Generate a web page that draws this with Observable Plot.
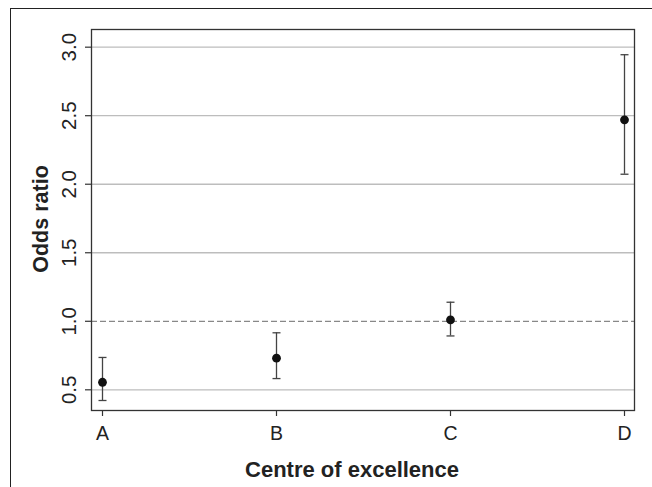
<!DOCTYPE html>
<html>
<head>
<meta charset="utf-8">
<script src="https://cdn.jsdelivr.net/npm/d3@7"></script>
<script src="https://cdn.jsdelivr.net/npm/@observablehq/plot@0.6"></script>
<style>
  html, body { margin: 0; padding: 0; background: white; }
  #wrap { position: relative; width: 652px; height: 487px; overflow: hidden; }
  #border { position: absolute; left: 10px; top: 8px; width: 700px; height: 600px;
            border-left: 1px solid #222; border-top: 1px solid #222; pointer-events: none; }
  #chart { position: absolute; left: 0; top: 0; }
</style>
</head>
<body>
<div id="wrap"><div id="border"></div><div id="chart"></div></div>
<script>
const centres = ["A", "B", "C", "D"];
const oddsRatio = [0.555, 0.731, 1.010, 2.470];
const lowerCI = [0.422, 0.582, 0.893, 2.073];
const upperCI = [0.736, 0.916, 1.139, 2.945];
const yTicks = [0.5, 1.0, 1.5, 2.0, 2.5, 3.0];
const gridLines = [0.5, 1.5, 2.0, 2.5, 3.0];
const referenceLine = [1.0];
const xTitle = "Centre of excellence";
const yTitle = "Odds ratio";

const data = centres.map((c, i) => ({centre: c, or: oddsRatio[i], lo: lowerCI[i], hi: upperCI[i]}));

// horizontal cap symbol for error bars
const capSymbol = {
  draw(context, size) {
    const r = Math.sqrt(size / Math.PI);
    context.moveTo(-r, 0);
    context.lineTo(r, 0);
  }
};

const chart = Plot.plot({
  width: 652,
  height: 487,
  marginLeft: 91,
  marginRight: 18,
  marginTop: 29,
  marginBottom: 77,
  style: {background: "transparent", fontFamily: "'Liberation Sans', Arial, Helvetica, sans-serif", color: "#222"},
  x: {type: "point", domain: centres, padding: 0.06},
  y: {domain: [0.349, 3.129]},
  marks: [
    Plot.ruleY(gridLines, {stroke: "#bdbdbd", strokeWidth: 1.3}),
    Plot.ruleY(referenceLine, {stroke: "#888", strokeWidth: 1.3, strokeDasharray: "6,3"}),
    Plot.frame({stroke: "#333", strokeWidth: 1.3}),
    Plot.axisY(yTicks, {tickSize: 6, tickRotate: -90, tickPadding: 10, fontSize: 20.5,
      tickFormat: d3.format(".1f"), label: null, stroke: "#333", strokeWidth: 1.2}),
    Plot.axisX(centres, {tickSize: 6, tickPadding: 10, fontSize: 19.5, label: null, stroke: "#333", strokeWidth: 1.2}),
    Plot.ruleX(data, {x: "centre", y1: "lo", y2: "hi", stroke: "#444", strokeWidth: 1.3}),
    Plot.dot(data, {x: "centre", y: "lo", r: 4, symbol: capSymbol, stroke: "#444", strokeWidth: 1.3, fill: "none"}),
    Plot.dot(data, {x: "centre", y: "hi", r: 4, symbol: capSymbol, stroke: "#444", strokeWidth: 1.3, fill: "none"}),
    Plot.dot(data, {x: "centre", y: "or", r: 4.4, fill: "#111", stroke: "none"}),
    Plot.text([xTitle], {frameAnchor: "bottom", dx: -11, dy: 59, lineAnchor: "middle",
      fontSize: 22, fontWeight: "bold", fill: "#222"}),
    Plot.text([yTitle], {frameAnchor: "left", dx: -50, dy: -1, rotate: -90, lineAnchor: "middle",
      textAnchor: "middle", fontSize: 21.5, fontWeight: "bold", fill: "#222"})
  ]
});
document.getElementById("chart").appendChild(chart);
</script>
</body>
</html>
